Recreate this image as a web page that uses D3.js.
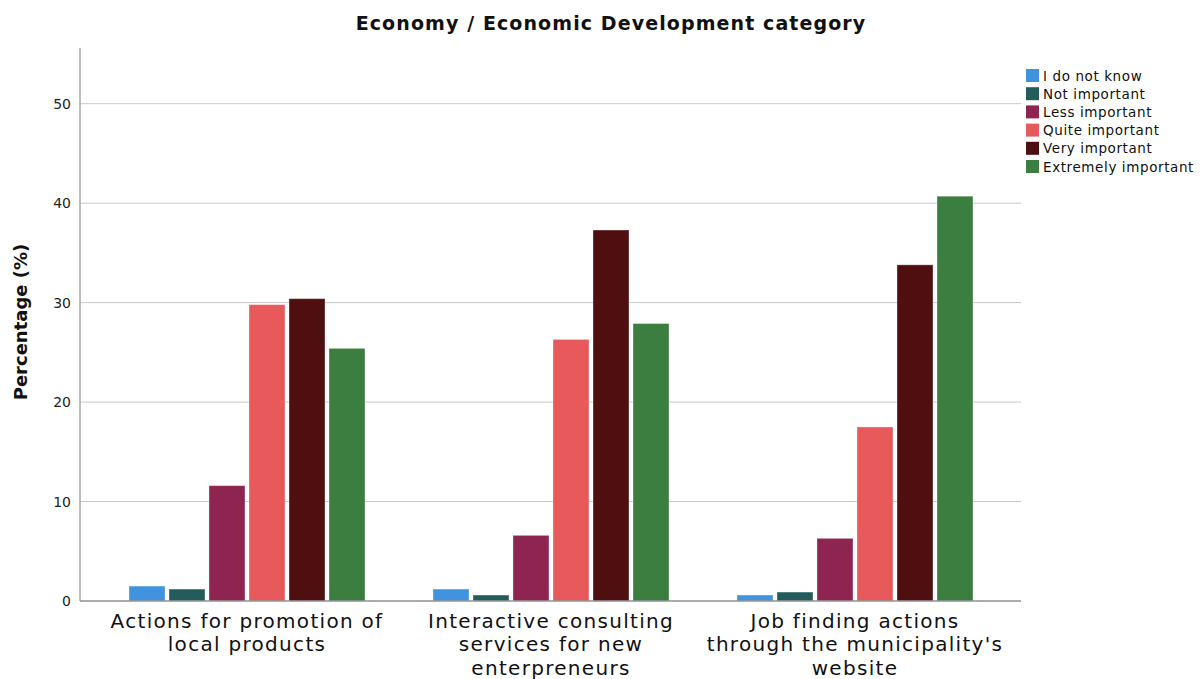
<!DOCTYPE html>
<html>
<head>
<meta charset="utf-8">
<script src="https://cdn.jsdelivr.net/npm/d3@7"></script>
<style>
  body { margin: 0; background: #fff; }
  svg { display: block; font-family: "DejaVu Sans", Verdana, sans-serif; }
</style>
</head>
<body>
<svg id="chart" width="1203" height="679"></svg>
<script>
const categories = [
  ["Actions for promotion of", "local products"],
  ["Interactive consulting", "services for new", "enterpreneurs"],
  ["Job finding actions", "through the municipality's", "website"]
];
const seriesNames = ["I do not know", "Not important", "Less important", "Quite important", "Very important", "Extremely important"];
const seriesColors = ["#3f93df", "#245c5b", "#8e2450", "#e8595c", "#4f0e10", "#3c7d40"];
const values = [
  [1.5, 1.2, 11.6, 29.8, 30.4, 25.4],
  [1.2, 0.6, 6.6, 26.3, 37.3, 27.9],
  [0.6, 0.9, 6.3, 17.5, 33.8, 40.7]
];
const yTicks = [0, 10, 20, 30, 40, 50];

(function () {
const FONT = "DejaVu Sans, Verdana, sans-serif";
const svg = d3.select("#chart");
const pLeft = 80, pRight = 1021, pTop = 48, pBottom = 601;
const groupW = 236;

const y = d3.scaleLinear().domain([0, 55.6]).range([pBottom, pTop]);
const x0 = d3.scaleBand().domain(d3.range(categories.length)).range([95, 1007]).paddingInner(0).paddingOuter(0);
const x1 = d3.scaleBand().domain(d3.range(seriesNames.length)).range([0, groupW]).paddingInner(0.1).paddingOuter(0);

// gridlines
svg.append("g").selectAll("line").data(yTicks.filter(d => d > 0)).join("line")
  .attr("x1", pLeft).attr("x2", pRight)
  .attr("y1", d => y(d)).attr("y2", d => y(d))
  .attr("stroke", "#c8c8c8").attr("stroke-width", 1);

// y axis
const yAxis = svg.append("g").attr("transform", `translate(${pLeft},0)`)
  .call(d3.axisLeft(y).tickValues(yTicks).tickSize(0).tickPadding(9));
yAxis.select(".domain").remove();
yAxis.selectAll("text").attr("font-size", 14).attr("fill", "#222")
  .attr("font-family", FONT);
svg.append("line").attr("x1", pLeft).attr("x2", pLeft).attr("y1", pTop).attr("y2", pBottom)
  .attr("stroke", "#a8a8a8").attr("stroke-width", 1.5);

// bars
const groups = svg.append("g").selectAll("g").data(values).join("g")
  .attr("transform", (d, i) => `translate(${x0(i) + (x0.bandwidth() - groupW) / 2},0)`);
groups.selectAll("rect").data(d => d).join("rect")
  .attr("x", (d, j) => x1(j))
  .attr("width", x1.bandwidth())
  .attr("y", d => y(d))
  .attr("height", d => y(0) - y(d))
  .attr("fill", (d, j) => seriesColors[j])
  .attr("stroke", "#ffffff").attr("stroke-opacity", 0.35).attr("stroke-width", 1);

// x axis line
svg.append("line").attr("x1", pLeft).attr("x2", pRight).attr("y1", pBottom).attr("y2", pBottom)
  .attr("stroke", "#909090").attr("stroke-width", 1.5);

// category labels
const xAxis = svg.append("g").attr("transform", `translate(0,${pBottom})`)
  .call(d3.axisBottom(x0).tickSize(0).tickFormat(""));
xAxis.select(".domain").remove();
xAxis.selectAll(".tick").each(function(d, i) {
  const t = d3.select(this).append("text")
    .attr("text-anchor", "middle").attr("fill", "#111")
    .attr("font-family", FONT)
    .attr("font-size", 20).attr("letter-spacing", 1.3);
  categories[i].forEach((line, k) => {
    t.append("tspan").attr("x", 0).attr("y", 27 + k * 23.4).text(line);
  });
});

// title
svg.append("text").attr("x", 611).attr("y", 30).attr("text-anchor", "middle")
  .attr("font-weight", "bold").attr("font-size", 19).attr("letter-spacing", 1.1).attr("fill", "#111")
  .text("Economy / Economic Development category");

// y axis title
svg.append("text").attr("transform", "translate(27,322) rotate(-90)")
  .attr("text-anchor", "middle").attr("font-weight", "bold").attr("font-size", 18).attr("fill", "#111")
  .text("Percentage (%)");

// legend
const legend = svg.append("g").attr("transform", "translate(1026,69)");
const li = legend.selectAll("g").data(seriesNames).join("g")
  .attr("transform", (d, i) => `translate(0,${i * 18.2})`);
li.append("rect").attr("width", 13).attr("height", 13)
  .attr("fill", (d, i) => seriesColors[i]);
li.append("text").attr("x", 17).attr("y", 11.5).attr("font-size", 13.5).attr("letter-spacing", 0.6).attr("fill", "#111")
  .text(d => d);
})();
</script>
</body>
</html>
